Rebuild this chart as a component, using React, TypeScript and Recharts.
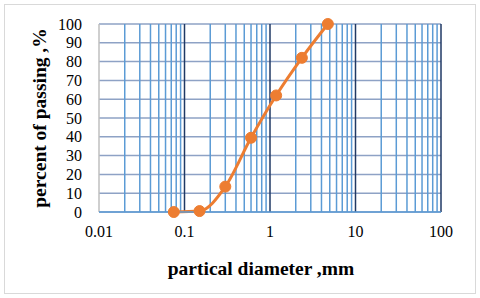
import React from "react";
import { LineChart, Line, XAxis, YAxis, CartesianGrid, ReferenceLine, Label } from "recharts";

// sieve sizes (mm) and percent passing
const sizes = [0.075, 0.15, 0.3, 0.6, 1.18, 2.36, 4.75];
const passing = [0, 0.5, 13.5, 39.5, 62, 82, 100];

const xTicks = [0.01, 0.1, 1, 10, 100];
const yTicks = [0, 10, 20, 30, 40, 50, 60, 70, 80, 90, 100];
const majorLines = [0.1, 1, 10, 100];
const minorLines = [0.01, 0.1, 1, 10].flatMap((d) => [2, 3, 4, 5, 6, 7, 8, 9].map((m) => +(d * m).toPrecision(3)));

const data = sizes.map((s, i) => ({ size: s, pass: passing[i] }));

const FONT = "Liberation Serif, Times New Roman, serif";

const XTick = ({ x, y, payload }: any) => (
  <text x={x} y={y + 14} dy="0.71em" textAnchor="middle" fill="#000" fontSize={16} fontFamily={FONT}>
    {String(payload.value)}
  </text>
);

const YTick = ({ x, y, payload }: any) => (
  <text x={82} y={y} dy="0.355em" textAnchor="end" fill="#000" fontSize={16} fontFamily={FONT}>
    {payload.value}
  </text>
);

export default function App() {
  return (
    <div style={{ position: "absolute", left: 0, top: 0, width: 480, height: 298, background: "#fff" }}>
      <div
        style={{
          position: "absolute",
          left: 4,
          top: 4,
          width: 470,
          height: 288,
          border: "1px solid #d9d9d9",
        }}
      />
      <LineChart
        width={480}
        height={298}
        data={data}
        margin={{ top: 24, right: 39, bottom: 0, left: 0 }}
        style={{ position: "absolute", left: 0, top: 0 }}
      >
        <CartesianGrid vertical={false} stroke="#8EA2C5" strokeWidth={1.5} />
        {minorLines.map((v) => (
          <ReferenceLine key={`m-${v}`} x={v} stroke="#5B9BD5" strokeWidth={1.5} />
        ))}
        <ReferenceLine x={0.01} stroke="#BFBFBF" strokeWidth={1.5} />
        {majorLines.map((v) => (
          <ReferenceLine key={`M-${v}`} x={v} stroke="#1F3864" strokeWidth={1.5} />
        ))}
        <XAxis
          dataKey="size"
          type="number"
          scale="log"
          domain={[0.01, 100]}
          ticks={xTicks}
          interval={0}
          allowDataOverflow
          height={86}
          tickSize={0}
          tickMargin={0}
          axisLine={{ stroke: "#5B9BD5", strokeWidth: 1.5 }}
          tick={<XTick />}
        >
          <Label
            value="partical diameter ,mm"
            position="insideBottom"
            offset={23}
            dx={-9}
            style={{ fill: "#000", fontSize: 19.5, fontWeight: "bold", fontFamily: FONT }}
          />
        </XAxis>
        <YAxis
          type="number"
          domain={[0, 100]}
          ticks={yTicks}
          interval={0}
          width={99}
          tickSize={0}
          tickMargin={0}
          axisLine={false}
          tick={<YTick />}
        >
          <Label
            value="percent of passing ,%"
            angle={-90}
            position="insideLeft"
            offset={39}
            style={{ textAnchor: "middle", fill: "#000", fontSize: 19.5, fontWeight: "bold", fontFamily: FONT }}
          />
        </YAxis>
        <Line
          type="monotone"
          dataKey="pass"
          stroke="#ED7D31"
          strokeWidth={3}
          dot={{ r: 5.5, fill: "#ED7D31", stroke: "#ED7D31", strokeWidth: 1 }}
          isAnimationActive={false}
        />
      </LineChart>
    </div>
  );
}
